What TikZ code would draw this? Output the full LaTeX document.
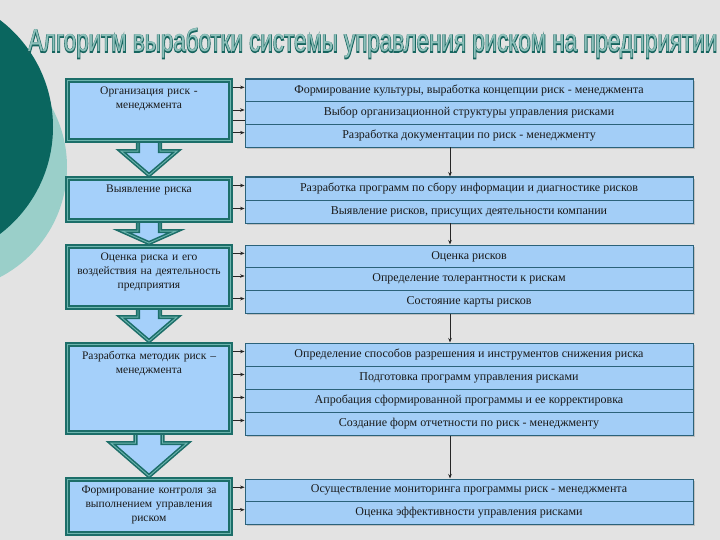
\documentclass[tikz,border=0pt]{standalone}
\usepackage{fontspec}
\usepackage{graphicx}
\setmainfont{Liberation Serif}
\newfontfamily\titlefont{Liberation Sans}
\newfontfamily\titlefontbold[FakeBold=5]{Liberation Sans}
\usetikzlibrary{shadows,arrows.meta,calc}
\definecolor{bgcol}{HTML}{E3E3E3}
\definecolor{darkteal}{HTML}{0A665F}
\definecolor{lightteal}{HTML}{9ACFC9}
\definecolor{boxline}{HTML}{1C6E69}
\definecolor{boxinner}{HTML}{6DB5AE}
\definecolor{boxfill}{HTML}{A5D0FA}
\definecolor{rowfill}{HTML}{A3CEF7}
\definecolor{rowline}{HTML}{2B627A}
\definecolor{titlefill}{HTML}{8DC0BA}
\definecolor{titleline}{HTML}{17655F}
\newcommand\blockarr[5]{%
  \draw[blockarrow] ($(#1.south)+(-#3,-6)$) -- ($(#2.north)+(-#3,-#5)$) -- ($(#2.north)+(-#4,-#5)$)
    -- ($(#2.north)+(0,-1)$) -- ($(#2.north)+(#4,-#5)$) -- ($(#2.north)+(#3,-#5)$)
    -- ($(#1.south)+(#3,-6)$) -- cycle;}
\tikzset{
  leftbox/.style={draw=boxline, line width=1.9pt, double=boxinner, double distance=0.9pt,
    fill=boxfill, minimum width=163pt, inner sep=0pt,
    drop shadow={shadow xshift=2pt, shadow yshift=-2pt, opacity=0.35}},
  leftpos/.style={minimum width=163pt, inner sep=0pt, outer sep=2.4pt},
  blockarrow/.style={draw=boxline, line width=1.6pt, double=boxinner, double distance=0.9pt,
    fill=boxfill, line join=miter},
  ltext/.style={inner sep=0pt, align=center, text width=160pt, font=\fontsize{11.5}{14}\selectfont, text=black!90},
  groupbox/.style={draw=rowline, line width=1pt, fill=rowfill, minimum width=448pt, inner sep=0pt,
    drop shadow={shadow xshift=2pt, shadow yshift=-2pt, opacity=0.35}},
  rowbox/.style={draw=rowline, line width=0.8pt, fill=rowfill, minimum width=448pt, inner sep=0pt,
    font=\fontsize{12}{13}\selectfont, text=black!90},
  conn/.style={draw=black!85, line width=0.7pt, -{Stealth[length=4.5pt,width=3.5pt]}},
  plainconn/.style={draw=black!85, line width=0.7pt}
}
\begin{document}
\begin{tikzpicture}[x=1pt,y=-1pt]
\useasboundingbox (0,0) rectangle (720,540);
\clip (0,0) rectangle (720,540);
\fill[bgcol] (0,0) rectangle (720,540);
% decoration
\fill[lightteal] (-57,167) circle (124pt);
\fill[darkteal] (-81.5,127) circle (134.5pt);
% title
\node[anchor=base west, inner sep=0pt] (titleo) at (28,52)
  {\color{titleline}\resizebox{689pt}{\height}{\titlefontbold\fontsize{32}{36}\selectfont Алгоритм выработки системы управления риском на предприятии}};
\node[anchor=base west, inner sep=0pt] (title) at (28,52)
  {\color{titlefill}\resizebox{689pt}{\height}{\titlefont\fontsize{32}{36}\selectfont Алгоритм выработки системы управления риском на предприятии}};
% left box positions
\node[leftpos, minimum height=60pt] (L1) at (149,110.5) {};
\node[leftpos, minimum height=42pt] (L2) at (149,199.5) {};
\node[leftpos, minimum height=61pt] (L3) at (149,277) {};
\node[leftpos, minimum height=88pt] (L4) at (149,388.5) {};
\node[leftpos, minimum height=54pt] (L5) at (149,506.5) {};
% block arrows
\blockarr{L1}{L2}{11}{28}{25}
\blockarr{L2}{L3}{11}{27}{13}
\blockarr{L3}{L4}{11}{28}{25}
\blockarr{L4}{L5}{13.5}{38}{34}
% left boxes drawn
\node[leftbox, minimum height=60pt] at (L1) {};
\node[leftbox, minimum height=42pt] at (L2) {};
\node[leftbox, minimum height=61pt] at (L3) {};
\node[leftbox, minimum height=88pt] at (L4) {};
\node[leftbox, minimum height=54pt] at (L5) {};
\node[ltext, anchor=north] (L1t) at ($(L1.north)+(0,8.5)$) {Организация риск -\\менеджмента};
\node[ltext, anchor=north] (L2t) at ($(L2.north)+(0,8.5)$) {Выявление риска};
\node[ltext, anchor=north] (L3t) at ($(L3.north)+(0,8.5)$) {Оценка риска и его\\воздействия на деятельность\\предприятия};
\node[ltext, anchor=north] (L4t) at ($(L4.north)+(0,8.5)$) {Разработка методик риск –\\менеджмента};
\node[ltext, anchor=north] (L5t) at ($(L5.north)+(0,8.5)$) {Формирование контроля за\\выполнением управления\\риском};
% right groups
\node[groupbox, minimum height=68pt] (G1) at (469,113) {};
\node[rowbox, minimum height=22.67pt] (R11) at (469,90.33) {Формирование культуры, выработка концепции риск - менеджмента};
\node[rowbox, minimum height=22.67pt] (R12) at (469,113) {Выбор организационной структуры управления рисками};
\node[rowbox, minimum height=22.67pt] (R13) at (469,135.67) {Разработка документации по риск - менеджменту};
\node[groupbox, minimum height=46pt] (G2) at (469,200) {};
\node[rowbox, minimum height=23pt] (R21) at (469,188.5) {Разработка программ по сбору информации и диагностике рисков};
\node[rowbox, minimum height=23pt] (R22) at (469,211.5) {Выявление рисков, присущих деятельности компании};
\node[groupbox, minimum height=68pt] (G3) at (469,279) {};
\node[rowbox, minimum height=22.67pt] (R31) at (469,256.33) {Оценка рисков};
\node[rowbox, minimum height=22.67pt] (R32) at (469,279) {Определение толерантности к рискам};
\node[rowbox, minimum height=22.67pt] (R33) at (469,301.67) {Состояние карты рисков};
\node[groupbox, minimum height=92pt] (G4) at (469,389) {};
\node[rowbox, minimum height=23pt] (R41) at (469,354.5) {Определение способов разрешения и инструментов снижения риска};
\node[rowbox, minimum height=23pt] (R42) at (469,377.5) {Подготовка программ управления рисками};
\node[rowbox, minimum height=23pt] (R43) at (469,400.5) {Апробация сформированной программы и ее корректировка};
\node[rowbox, minimum height=23pt] (R44) at (469,423.5) {Создание форм отчетности по риск - менеджменту};
\node[groupbox, minimum height=45pt] (G5) at (469,501.5) {};
\node[rowbox, minimum height=22.5pt] (R51) at (469,490.25) {Осуществление мониторинга программы риск - менеджмента};
\node[rowbox, minimum height=22.5pt] (R52) at (469,512.75) {Оценка эффективности управления рисками};
% horizontal connectors
\foreach \l/\r in {L1/R11,L1/R12,L1/R13,L2/R21,L2/R22,L3/R31,L3/R32,L3/R33,L4/R41,L4/R42,L4/R43,L4/R44,L5/R51,L5/R52}
  \draw[conn] ([yshift=3pt]\r.west -| \l.east) -- ([yshift=3pt]\r.west);
\draw[plainconn] ([yshift=-7pt]R12.west -| L1.east) -- ([yshift=-7pt]R12.west);
% vertical connectors
\coordinate (vx) at (450,0);
\draw[conn] (G1.south -| vx) -- (G2.north -| vx);
\draw[conn] (G2.south -| vx) -- (G3.north -| vx);
\draw[conn] (G3.south -| vx) -- (G4.north -| vx);
\draw[conn] (G4.south -| vx) -- (G5.north -| vx);
\end{tikzpicture}
\end{document}
